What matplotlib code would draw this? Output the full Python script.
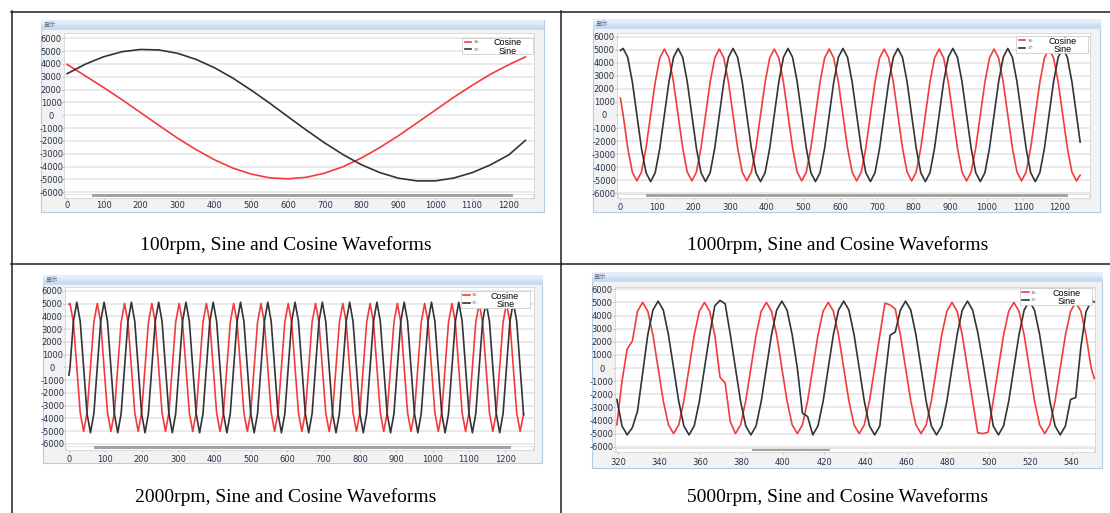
import matplotlib
matplotlib.use('Agg')
import matplotlib.pyplot as plt
from matplotlib.patches import Rectangle
from matplotlib.lines import Line2D
from matplotlib.ticker import MultipleLocator
from matplotlib.colors import LinearSegmentedColormap

plt.rcParams['axes.unicode_minus'] = False

W, H = 1110, 513
RED = '#f23c3c'
DARK = '#333333'
TICK_COLOR = '#253049'

# ---- values ----

# 100 rpm
X_100 = [0, 50, 100, 150, 200, 250, 300, 350, 400, 450, 500, 550, 600,
         650, 700, 750, 800, 850, 900, 950, 1000, 1050, 1100, 1150, 1200, 1245]
COS_100 = [3970, 3060, 2150, 1200, 200, -800, -1780, -2670, -3460, -4110,
           -4580, -4870, -4950, -4830, -4500, -4000, -3320, -2500, -1590,
           -600, 400, 1400, 2330, 3200, 3950, 4550]
SIN_100 = [3240, 3990, 4570, 4960, 5130, 5090, 4830, 4360, 3710, 2900,
           1960, 950, -110, -1160, -2160, -3070, -3860, -4470, -4900,
           -5110, -5110, -4890, -4470, -3860, -3080, -1950]

# 1000 rpm
X_1000 = [0,
          7.5, 20, 32.5, 45, 57.5, 70, 82.5, 95, 107.5, 120, 132.5, 145,
          157.5, 170, 182.5, 195, 207.5, 220, 232.5, 245, 257.5, 270, 282.5, 295,
          307.5, 320, 332.5, 345, 357.5, 370, 382.5, 395, 407.5, 420, 432.5, 445,
          457.5, 470, 482.5, 495, 507.5, 520, 532.5, 545, 557.5, 570, 582.5, 595,
          607.5, 620, 632.5, 645, 657.5, 670, 682.5, 695, 707.5, 720, 732.5, 745,
          757.5, 770, 782.5, 795, 807.5, 820, 832.5, 845, 857.5, 870, 882.5, 895,
          907.5, 920, 932.5, 945, 957.5, 970, 982.5, 995, 1007.5, 1020, 1032.5, 1045,
          1057.5, 1070, 1082.5, 1095, 1107.5, 1120, 1132.5, 1145, 1157.5, 1170, 1182.5, 1195,
          1207.5, 1220, 1232.5, 1245,
          1255]
COS_1000 = [1300,
            0, -2520, -4370, -5050, -4370, -2520, 0, 2520, 4370, 5050, 4370, 2520,
            0, -2520, -4370, -5050, -4370, -2520, 0, 2520, 4370, 5050, 4370, 2520,
            0, -2520, -4370, -5050, -4370, -2520, 0, 2520, 4370, 5050, 4370, 2520,
            0, -2520, -4370, -5050, -4370, -2520, 0, 2520, 4370, 5050, 4370, 2520,
            0, -2520, -4370, -5050, -4370, -2520, 0, 2520, 4370, 5050, 4370, 2520,
            0, -2520, -4370, -5050, -4370, -2520, 0, 2520, 4370, 5050, 4370, 2520,
            0, -2520, -4370, -5050, -4370, -2520, 0, 2520, 4370, 5050, 4370, 2520,
            0, -2520, -4370, -5050, -4370, -2520, 0, 2520, 4370, 5050, 4370, 2520,
            0, -2520, -4370, -5050,
            -4610]
SIN_1000 = [4950,
            5100, 4420, 2550, 0, -2550, -4420, -5100, -4420, -2550, 0, 2550, 4420,
            5100, 4420, 2550, 0, -2550, -4420, -5100, -4420, -2550, 0, 2550, 4420,
            5100, 4420, 2550, 0, -2550, -4420, -5100, -4420, -2550, 0, 2550, 4420,
            5100, 4420, 2550, 0, -2550, -4420, -5100, -4420, -2550, 0, 2550, 4420,
            5100, 4420, 2550, 0, -2550, -4420, -5100, -4420, -2550, 0, 2550, 4420,
            5100, 4420, 2550, 0, -2550, -4420, -5100, -4420, -2550, 0, 2550, 4420,
            5100, 4420, 2550, 0, -2550, -4420, -5100, -4420, -2550, 0, 2550, 4420,
            5100, 4420, 2550, 0, -2550, -4420, -5100, -4420, -2550, 0, 2550, 4420,
            5100, 4420, 2550, 0,
            -2070]

# 2000 rpm
X_2000 = [0,
          3, 12.4, 21.8, 31.1, 40.5, 49.9, 59.3, 68.6,
          78, 87.4, 96.8, 106.1, 115.5, 124.9, 134.3, 143.6,
          153, 162.4, 171.8, 181.1, 190.5, 199.9, 209.3, 218.6,
          228, 237.4, 246.8, 256.1, 265.5, 274.9, 284.3, 293.6,
          303, 312.4, 321.8, 331.1, 340.5, 349.9, 359.3, 368.6,
          378, 387.4, 396.8, 406.1, 415.5, 424.9, 434.3, 443.6,
          453, 462.4, 471.8, 481.1, 490.5, 499.9, 509.3, 518.6,
          528, 537.4, 546.8, 556.1, 565.5, 574.9, 584.3, 593.6,
          603, 612.4, 621.8, 631.1, 640.5, 649.9, 659.3, 668.6,
          678, 687.4, 696.8, 706.1, 715.5, 724.9, 734.3, 743.6,
          753, 762.4, 771.8, 781.1, 790.5, 799.9, 809.3, 818.6,
          828, 837.4, 846.8, 856.1, 865.5, 874.9, 884.3, 893.6,
          903, 912.4, 921.8, 931.1, 940.5, 949.9, 959.3, 968.6,
          978, 987.4, 996.8, 1006.1, 1015.5, 1024.9, 1034.3, 1043.6,
          1053, 1062.4, 1071.8, 1081.1, 1090.5, 1099.9, 1109.3, 1118.6,
          1128, 1137.4, 1146.8, 1156.1, 1165.5, 1174.9, 1184.3, 1193.6,
          1203, 1212.4, 1221.8, 1231.1, 1240.5,
          1250]
COS_2000 = [4960,
            5020, 3550, 0, -3550, -5020, -3550, 0, 3550,
            5020, 3550, 0, -3550, -5020, -3550, 0, 3550,
            5020, 3550, 0, -3550, -5020, -3550, 0, 3550,
            5020, 3550, 0, -3550, -5020, -3550, 0, 3550,
            5020, 3550, 0, -3550, -5020, -3550, 0, 3550,
            5020, 3550, 0, -3550, -5020, -3550, 0, 3550,
            5020, 3550, 0, -3550, -5020, -3550, 0, 3550,
            5020, 3550, 0, -3550, -5020, -3550, 0, 3550,
            5020, 3550, 0, -3550, -5020, -3550, 0, 3550,
            5020, 3550, 0, -3550, -5020, -3550, 0, 3550,
            5020, 3550, 0, -3550, -5020, -3550, 0, 3550,
            5020, 3550, 0, -3550, -5020, -3550, 0, 3550,
            5020, 3550, 0, -3550, -5020, -3550, 0, 3550,
            5020, 3550, 0, -3550, -5020, -3550, 0, 3550,
            5020, 3550, 0, -3550, -5020, -3550, 0, 3550,
            5020, 3550, 0, -3550, -5020, -3550, 0, 3550,
            5020, 3550, 0, -3550, -5020,
            -3650]
SIN_2000 = [-600,
            0, 3620, 5120, 3620, 0, -3620, -5120, -3620,
            0, 3620, 5120, 3620, 0, -3620, -5120, -3620,
            0, 3620, 5120, 3620, 0, -3620, -5120, -3620,
            0, 3620, 5120, 3620, 0, -3620, -5120, -3620,
            0, 3620, 5120, 3620, 0, -3620, -5120, -3620,
            0, 3620, 5120, 3620, 0, -3620, -5120, -3620,
            0, 3620, 5120, 3620, 0, -3620, -5120, -3620,
            0, 3620, 5120, 3620, 0, -3620, -5120, -3620,
            0, 3620, 5120, 3620, 0, -3620, -5120, -3620,
            0, 3620, 5120, 3620, 0, -3620, -5120, -3620,
            0, 3620, 5120, 3620, 0, -3620, -5120, -3620,
            0, 3620, 5120, 3620, 0, -3620, -5120, -3620,
            0, 3620, 5120, 3620, 0, -3620, -5120, -3620,
            0, 3620, 5120, 3620, 0, -3620, -5120, -3620,
            0, 3620, 5120, 3620, 0, -3620, -5120, -3620,
            0, 3620, 5120, 3620, 0, -3620, -5120, -3620,
            0, 3620, 5120, 3620, 0,
            -3700]

# 5000 rpm (zoomed window 320..550, with the sampling steps visible)
X_5000 = [319.5, 322, 324.5, 327, 329.5, 332, 334.5, 337, 339.5, 342, 344.5, 347,
          349.5, 352, 354.5, 357, 359.5, 362, 364.5, 367, 369.5, 372, 374.5, 377,
          379.5, 382, 384.5, 387, 389.5, 392, 394.5, 397, 399.5, 402, 404.5, 407,
          409.5, 412, 414.5, 417, 419.5, 422, 424.5, 427, 429.5, 432, 434.5, 437,
          439.5, 442, 444.5, 447, 449.5, 452, 454.5, 457, 459.5, 462, 464.5, 467,
          469.5, 472, 474.5, 477, 479.5, 482, 484.5, 487, 489.5, 492, 494.5, 497,
          499.5, 502, 504.5, 507, 509.5, 512, 514.5, 517, 519.5, 522, 524.5, 527,
          529.5, 532, 534.5, 537, 539.5, 542, 544.5, 547, 549.5,
          551]
COS_5000 = [-4330, -1000, 1450, 2050, 4330, 5000, 4330, 2500, 0, -2500, -4330, -5000,
            -4330, -2500, 0, 2500, 4330, 5000, 4330, 2500, -700, -1150, -4100, -5000,
            -4330, -2500, 0, 2500, 4330, 5000, 4330, 2500, 0, -2500, -4330, -5000,
            -4330, -2500, 0, 2500, 4330, 5000, 4330, 2500, 0, -2500, -4330, -5000,
            -4330, -2500, 0, 2500, 4950, 4800, 4500, 2500, 0, -2500, -4330, -5000,
            -4330, -2500, 0, 2500, 4330, 5000, 4330, 2500, 0, -2500, -4950, -5000,
            -4900, -2500, 0, 2500, 4330, 5000, 4330, 2500, 0, -2500, -4330, -5000,
            -4330, -2500, 0, 2500, 4330, 5000, 4330, 2500, 0,
            -800]
SIN_5000 = [-2400, -4420, -5100, -4550, -3300, -400, 2550, 4420, 5100, 4420, 2550, 0,
            -2550, -4420, -5100, -4420, -2550, 0, 2550, 4750, 5150, 4900, 2550, 0,
            -2550, -4420, -5100, -4420, -2550, 0, 2550, 4420, 5100, 4420, 2550, 0,
            -3450, -3700, -5100, -4420, -2550, 0, 2550, 4420, 5100, 4420, 2550, 0,
            -2550, -4420, -5100, -4420, -800, 2500, 2750, 4420, 5100, 4420, 2550, 0,
            -2550, -4420, -5100, -4420, -2550, 0, 2550, 4420, 5100, 4420, 2700, 450,
            -2000, -4420, -5100, -4420, -2550, 0, 2550, 4420, 5100, 4420, 2550, 0,
            -2550, -4420, -5100, -4420, -2400, -2250, 1600, 4300, 5100,
            5050]

Y_TICKS = list(range(-6000, 6001, 1000))

# ---- layout of the document page (pixel positions on the 1110x513 page) ----
PANELS = [
    dict(x=X_100, cos=COS_100, sin=SIN_100,
         caption='100rpm, Sine and Cosine Waveforms', cap=(286, 245),
         frame=(41, 20, 543.6, 211.7), axes=(64.3, 33, 534, 198),
         xcal=(67.1, 0, 508.9, 1200), ycal=(38.3, 6000, 192.3, -6000),
         xticks=(0, 1200, 100), minor=20, thumb=(92, 512.5),
         legend=(462, 37.5, 533), xlab=6),
    dict(x=X_1000, cos=COS_1000, sin=SIN_1000,
         caption='1000rpm, Sine and Cosine Waveforms', cap=(838, 245),
         frame=(593.3, 19.3, 1100.4, 211.7), axes=(617.2, 33.3, 1089.8, 198),
         xcal=(620.4, 0, 1060, 1200), ycal=(36.7, 6000, 193.3, -6000),
         xticks=(0, 1200, 100), minor=20, thumb=(646, 1067.7),
         legend=(1016, 36, 1088), xlab=7.7),
    dict(x=X_2000, cos=COS_2000, sin=SIN_2000,
         caption='2000rpm, Sine and Cosine Waveforms', cap=(286, 497),
         frame=(42.9, 275, 542, 463.3), axes=(65.4, 286.7, 534, 450),
         xcal=(68.9, 0, 505.4, 1200), ycal=(291, 6000, 444, -6000),
         xticks=(0, 1200, 100), minor=20, thumb=(94, 510.7),
         legend=(460.7, 291, 530.4), xlab=7.7),
    dict(x=X_5000, cos=COS_5000, sin=SIN_5000,
         caption='5000rpm, Sine and Cosine Waveforms', cap=(838, 497),
         frame=(591.6, 271.7, 1102, 468.3), axes=(615.1, 286.7, 1095, 452.3),
         xcal=(617.9, 320, 1071.6, 540), ycal=(289.3, 6000, 446.7, -6000),
         xticks=(320, 540, 20), minor=4, thumb=(752.3, 830.2),
         legend=(1019.6, 288, 1091.6), xlab=8.7),
]


def fx(px):
    return px / W


def fy(py):
    return 1 - py / H


def frect(l, t, r, b):
    return [fx(l), fy(b), (r - l) / W, (b - t) / H]


def lim_from_cal(a_px, a_val, b_px, b_val, lo_px, hi_px):
    k = (b_val - a_val) / (b_px - a_px)
    return a_val + (lo_px - a_px) * k, a_val + (hi_px - a_px) * k


def page_rect(l, t, r, b, **kw):
    return Rectangle((fx(l), fy(b)), (r - l) / W, (b - t) / H,
                     transform=fig.transFigure, **kw)


fig = plt.figure(figsize=(W / 100, H / 100), dpi=100)
bar_cmap = LinearSegmentedColormap.from_list('bar', ['#e6eff9', '#c7dbf1'])

for p in PANELS:
    # screenshot window frame and its title bar
    l, t, r, b = p['frame']
    fig.add_artist(page_rect(l, t, r, b, facecolor='#f2f2f2',
                             edgecolor='#b3cbe6', lw=0.8, zorder=-2))
    bar = fig.add_axes(frect(l, t, r, t + 10))
    bar.imshow([[0], [1]], cmap=bar_cmap, aspect='auto', interpolation='bilinear')
    bar.axis('off')
    fig.text(fx(l + 2.5), fy(t + 5), '显示', fontsize=4.5, color='#5d6d84',
             family=['Noto Sans CJK SC', 'DejaVu Sans'], ha='left', va='center')

    # plot area
    al, at, ar, ab = p['axes']
    ax = fig.add_axes(frect(al, at, ar, ab))
    ax.plot(p['x'], p['cos'], color=RED, lw=1.2, label='36:')
    ax.plot(p['x'], p['sin'], color=DARK, lw=1.2, label='37:')
    ax.set_xlim(*lim_from_cal(*p['xcal'], al, ar))
    ax.set_ylim(*lim_from_cal(*p['ycal'], ab, at))

    x0, x1, step = p['xticks']
    xt = list(range(x0, x1 + 1, step))
    ax.set_xticks(xt)
    ax.set_xticklabels([str(v) for v in xt])
    ax.set_yticks(Y_TICKS)
    ax.set_yticklabels([str(v) for v in Y_TICKS])
    for lb in ax.get_yticklabels():
        lb.set_horizontalalignment('center')
    ax.xaxis.set_minor_locator(MultipleLocator(p['minor']))

    ax.tick_params(which='major', length=1.5, width=0.5, color='#a8a8a8',
                   labelsize=6, labelcolor=TICK_COLOR)
    ax.tick_params(axis='y', pad=7.9)
    ax.tick_params(axis='x', pad=(p['xlab'] - 3) * 0.72 - 1.5)
    ax.tick_params(axis='x', which='minor', length=1.0, width=0.4, color='#b8b8b8')
    ax.grid(axis='y', color='#e6e6e6', lw=1.2)
    ax.set_axisbelow(True)
    for s in ax.spines.values():
        s.set_color('#d4d4d4')
        s.set_linewidth(0.6)

    # scroll bar along the bottom of the plot area
    fig.add_artist(page_rect(al + 1, ab - 4.5, ar - 1, ab - 0.5, facecolor='white',
                             edgecolor='#d6d6d6', lw=0.5, zorder=3))
    tl, tr = p['thumb']
    fig.add_artist(page_rect(tl, ab - 3.8, tr, ab - 1.2, facecolor='#a3a3a3',
                             edgecolor='none', zorder=4))

    # legend box with the channel numbers, and the overlaid names
    gl, gt, gr = p['legend']
    leg = ax.legend(loc='upper left',
                    bbox_to_anchor=(fx(gl), fy(gt) - 19 / H, (gr - gl) / W, 19 / H),
                    bbox_transform=fig.transFigure, mode='expand', borderaxespad=0,
                    fontsize=3, handlelength=1.6, handletextpad=0.5,
                    labelspacing=0.84, borderpad=0.6, fancybox=False,
                    framealpha=1, edgecolor='#c4c4c4')
    leg.get_frame().set_linewidth(0.5)
    for txt in leg.get_texts():
        txt.set_color('#666666')
    fig.text(fx(gr - 25.5), fy(gt + 5.5), 'Cosine', fontsize=6.5,
             family='Liberation Sans', ha='center', va='center', zorder=6)
    fig.text(fx(gr - 25), fy(gt + 13.8), 'Sine', fontsize=6.5,
             family='Liberation Sans', ha='center', va='center', zorder=6)

    # caption under the screenshot
    cx, cy = p['cap']
    fig.text(fx(cx), fy(cy), p['caption'], fontsize=14, family='Liberation Serif',
             ha='center', va='center')

# table rules of the document
for (xa, ya, xb, yb) in [(11, 11.5, 1110, 11.5), (11.5, 11, 11.5, 513),
                         (561, 11, 561, 513), (11, 264, 1110, 264)]:
    fig.add_artist(Line2D([fx(xa), fx(xb)], [fy(ya), fy(yb)],
                          transform=fig.transFigure, color='#1f1f1f', lw=1.1))

fig.savefig('out.png', dpi=100)
